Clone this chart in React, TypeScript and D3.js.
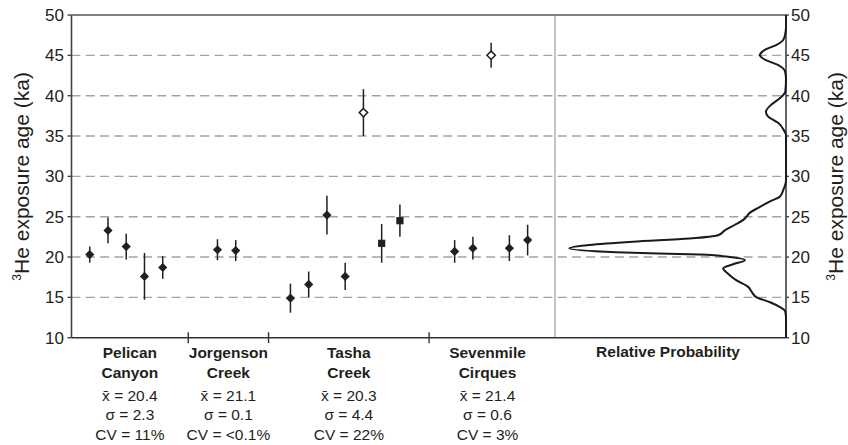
import * as d3 from 'd3';

// sample positions along the x axis (index units) and their ages (ka)
const sampleIndex = [1, 2, 3, 4, 5, 8, 9, 12, 13, 14, 15, 16, 17, 18, 21, 22, 23, 24, 25];
const sampleAge = [20.3, 23.3, 21.3, 17.6, 18.7, 20.9, 20.8, 14.9, 16.6, 25.2, 17.6, 37.9, 21.7, 24.5, 20.7, 21.1, 45.0, 21.1, 22.1];
const sampleErr = [1.0, 1.6, 1.6, 2.9, 1.4, 1.3, 1.3, 1.8, 1.6, 2.4, 1.7, 2.9, 2.4, 2.0, 1.4, 1.4, 1.55, 1.6, 1.9];
const sampleMarker = [
  'diamond', 'diamond', 'diamond', 'diamond', 'diamond',
  'diamond', 'diamond',
  'diamond', 'diamond', 'diamond', 'diamond', 'open', 'square', 'square',
  'diamond', 'diamond', 'open', 'diamond', 'diamond',
];

// groups
const groupBounds = [0, 6.4, 10.8, 19.6, 26.0];
const groupLine1 = ['Pelican', 'Jorgenson', 'Tasha', 'Sevenmile'];
const groupLine2 = ['Canyon', 'Creek', 'Creek', 'Cirques'];
const groupMean = ['20.4', '21.1', '20.3', '21.4'];
const groupSigma = ['2.3', '0.1', '4.4', '0.6'];
const groupCV = ['11%', '<0.1%', '22%', '3%'];

// relative probability curve: [age, probability]
const probAge = [10, 12.5, 13.3, 13.8, 14.4, 15.0, 15.7, 16.3, 17.1, 17.9, 18.6, 19.1, 19.6, 20.0, 20.3, 20.6, 21.1, 21.5, 21.9, 22.3, 22.7, 23.3, 24.0, 24.6, 25.0, 25.5, 26.1, 26.9, 27.5, 28.3, 29.5, 35.1, 35.7, 36.6, 37.4, 38.0, 38.8, 39.7, 40.5, 42.1, 43.0, 43.8, 44.4, 45.0, 45.7, 46.3, 46.9, 47.7, 48.5, 50];
const probValue = [0, 0, 0.004, 0.026, 0.069, 0.127, 0.149, 0.164, 0.214, 0.25, 0.272, 0.229, 0.178, 0.243, 0.373, 0.735, 0.938, 0.851, 0.663, 0.417, 0.294, 0.265, 0.221, 0.185, 0.171, 0.156, 0.12, 0.069, 0.026, 0.012, 0, 0, 0.009, 0.033, 0.077, 0.087, 0.067, 0.026, 0.003, 0, 0.004, 0.033, 0.087, 0.113, 0.09, 0.041, 0.012, 0.003, 0, 0];

const FONT = '"Liberation Sans", Arial, Helvetica, sans-serif';
const INK = '#231f20';

export default function App() {
  const left = 71.5, divider = 555, right = 786;
  const y = d3.scaleLinear().domain([10, 50]).range([337.7, 15]);
  const x = d3.scaleLinear().domain([0, 26.5]).range([left, divider]);
  const p = d3.scaleLinear().domain([0, 1]).range([right, divider]);
  const yTicks = y.ticks(8);

  const curve = d3.line<number>()
    .x((_, i) => p(probValue[i]))
    .y((a) => y(a))
    .curve(d3.curveMonotoneY)(probAge);

  const diamond = (r: number) => `M0,${-r}L${r},0L0,${r}L${-r},0Z`;

  const yTitle = (
    <>
      <tspan fontSize="12" dy="-8">3</tspan>
      <tspan dy="8">He exposure age (ka)</tspan>
    </>
  );

  return (
    <svg width={848} height={445} style={{ position: 'absolute', left: 0, top: 0, background: '#fff' }} fontFamily={FONT}>
      {/* grid */}
      {yTicks.filter((t) => t > 10 && t < 50).map((t) => (
        <line key={'g' + t} x1={left} x2={right} y1={y(t)} y2={y(t)}
          stroke="#a3a3a3" strokeWidth={1.4} strokeDasharray="9,5.3" />
      ))}
      {/* frame */}
      <line x1={left} x2={right} y1={y(50)} y2={y(50)} stroke="#555" strokeWidth={1.6} />
      <line x1={divider} x2={divider} y1={y(50)} y2={y(10)} stroke="#888" strokeWidth={1} />
      <line x1={left} x2={left} y1={y(50)} y2={y(10)} stroke="#444" strokeWidth={1.6} />
      <line x1={right} x2={right} y1={y(50)} y2={y(10)} stroke="#666" strokeWidth={2} />
      <line x1={left} x2={right} y1={y(10)} y2={y(10)} stroke="#333" strokeWidth={1.6} />

      {/* y ticks */}
      {yTicks.map((t) => (
        <g key={'t' + t} fontSize={17} fill={INK}>
          <line x1={left - 4} x2={left} y1={y(t)} y2={y(t)} stroke="#444" strokeWidth={1.4} />
          <line x1={right} x2={right + 3} y1={y(t)} y2={y(t)} stroke="#444" strokeWidth={1.4} />
          <text x={64} y={y(t)} dy="0.36em" textAnchor="end">{t}</text>
          <text x={791} y={y(t)} dy="0.36em" textAnchor="start">{t}</text>
        </g>
      ))}

      {/* group separators */}
      {groupBounds.slice(1, -1).map((b) => (
        <line key={'b' + b} x1={x(b)} x2={x(b)} y1={y(10) - 5.5} y2={y(10) + 5.5} stroke="#333" strokeWidth={1.4} />
      ))}

      {/* axis titles */}
      <text transform={`translate(29,${(y(50) + y(10)) / 2}) rotate(-90)`} textAnchor="middle" fontSize={21} fill={INK}>{yTitle}</text>
      <text transform={`translate(843,${(y(50) + y(10)) / 2}) rotate(-90)`} textAnchor="middle" fontSize={21} fill={INK}>{yTitle}</text>

      {/* error bars */}
      {sampleIndex.map((k, i) => (
        <line key={'e' + i} x1={x(k)} x2={x(k)} y1={y(sampleAge[i] + sampleErr[i])} y2={y(sampleAge[i] - sampleErr[i])}
          stroke={INK} strokeWidth={1.5} />
      ))}
      {/* markers */}
      {sampleIndex.map((k, i) => {
        const m = sampleMarker[i];
        const t = `translate(${x(k)},${y(sampleAge[i])})`;
        if (m === 'square') return <rect key={'m' + i} transform={t} x={-3.6} y={-3.6} width={7.2} height={7.2} fill={INK} />;
        if (m === 'open') return <path key={'m' + i} transform={t} d={diamond(4.2)} fill="#fff" stroke={INK} strokeWidth={1.5} />;
        return <path key={'m' + i} transform={t} d={diamond(4.6)} fill={INK} />;
      })}

      {/* probability curve */}
      <path d={curve ?? ''} fill="none" stroke="#1a1a1a" strokeWidth={2} />

      {/* group labels */}
      {groupLine1.map((name, i) => {
        const cx = x((groupBounds[i] + groupBounds[i + 1]) / 2);
        return (
          <g key={'l' + i} textAnchor="middle" fill={INK} fontSize={15.5}>
            <text x={cx} y={357.5} fontWeight="bold">{name}</text>
            <text x={cx} y={377.5} fontWeight="bold">{groupLine2[i]}</text>
            <text x={cx} y={400.5}>{'x\u0304 = ' + groupMean[i]}</text>
            <text x={cx} y={420}>{'\u03c3 = ' + groupSigma[i]}</text>
            <text x={cx} y={439.5}>{'CV = ' + groupCV[i]}</text>
          </g>
        );
      })}
      <text x={668} y={357} textAnchor="middle" fontWeight="bold" fontSize={15.5} fill={INK}>Relative Probability</text>
    </svg>
  );
}
